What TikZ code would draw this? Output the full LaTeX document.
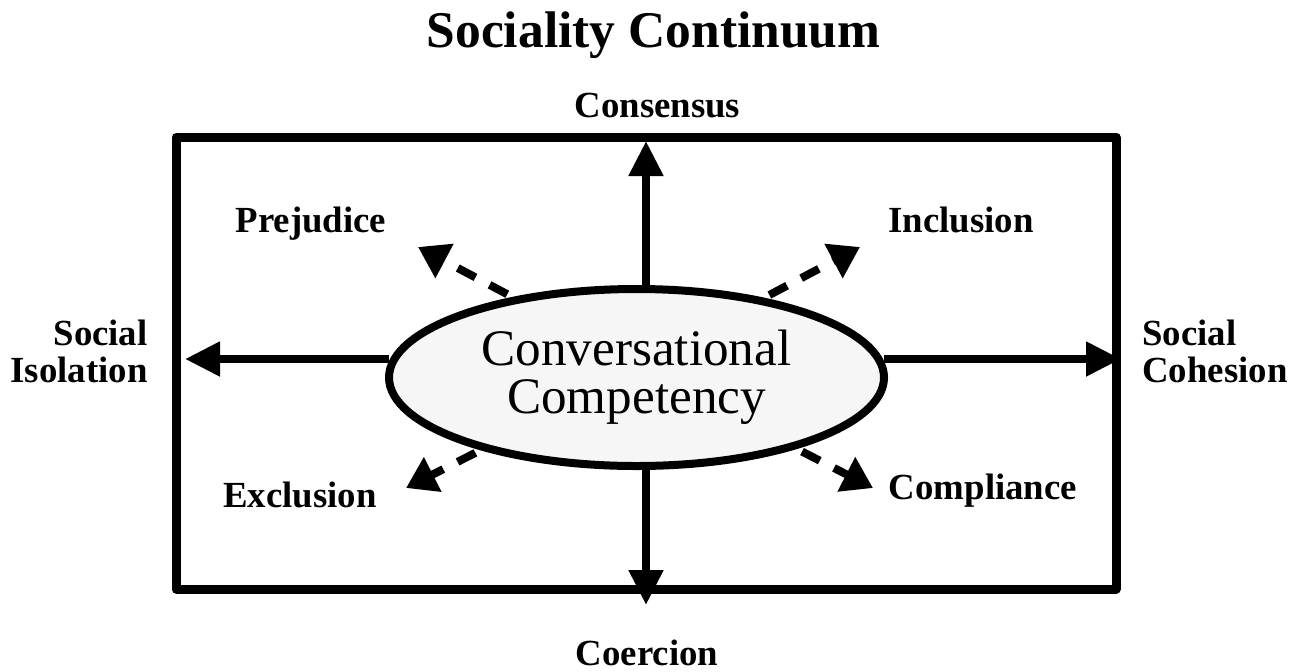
\documentclass[tikz,border=0pt]{standalone}
\usepackage{fontspec}
\setmainfont{Liberation Serif}
\usetikzlibrary{shapes.geometric,arrows.meta}

\begin{document}
\begin{tikzpicture}[x=.5pt, y=-.5pt, line join=round,
  axis/.style={line width=4pt, -{Triangle[width=16.5pt,length=17.5pt]}},
  dasharrow/.style={line width=4pt, dash pattern=on 10pt off 8pt, shorten <=3pt, -{Triangle[width=18.5pt,length=15pt]}},
  lab/.style={font=\fontsize{18.4}{18.5}\selectfont\bfseries, inner sep=0pt, anchor=base}]
\useasboundingbox (0,0) rectangle (1296,671);
\node[lab, font=\fontsize{25.75}{26}\selectfont\bfseries] (title) at (653.5,47) {Sociality Continuum};
\draw[line width=4.5pt] (176,137) rectangle (1116,589);
\node[ellipse, draw, line width=4pt, fill=gray!7, minimum width=247.5pt, minimum height=88.5pt,
  inner sep=0pt, align=center, font=\fontsize{25.6}{24}\selectfont] (cc) at (636.5,377.5) {Conversational\\Competency};
% arrow tips on the frame
\coordinate (nTip) at (646,141);
\coordinate (sTip) at (646,605);
\coordinate (wTip) at (185,359);
\coordinate (eTip) at (1121,359);
\draw[axis] (nTip |- cc.north) -- (nTip);
\draw[axis] (sTip |- cc.south) -- (sTip);
\draw[axis] (wTip -| cc.176) -- (wTip);
\draw[axis] (eTip -| cc.4) -- (eTip);
% diagonal (dashed) arrows
\coordinate (prej) at (418,247);
\coordinate (incl) at (860,247);
\coordinate (excl) at (406,488);
\coordinate (comp) at (873,488);
\foreach \a/\t in {147/prej, 32/incl, 205/excl, 336/comp}
\draw[dasharrow] (cc.\a) -- (\t);
\node[lab] (consensus) at (657.5,117) {Consensus};
\node[lab] (coercion) at (647,665) {Coercion};
\node[lab] (prejudice) at (311,232) {Prejudice};
\node[lab] (inclusion) at (961,232) {Inclusion};
\node[lab] (exclusion) at (300,507) {Exclusion};
\node[lab] (compliance) at (983,499) {Compliance};
\node[lab, anchor=east, align=right] (isolation) at (148,351) {Social\\Isolation};
\node[lab, anchor=west, align=left] (cohesion) at (1142,351) {Social\\Cohesion};
\end{tikzpicture}
\end{document}
